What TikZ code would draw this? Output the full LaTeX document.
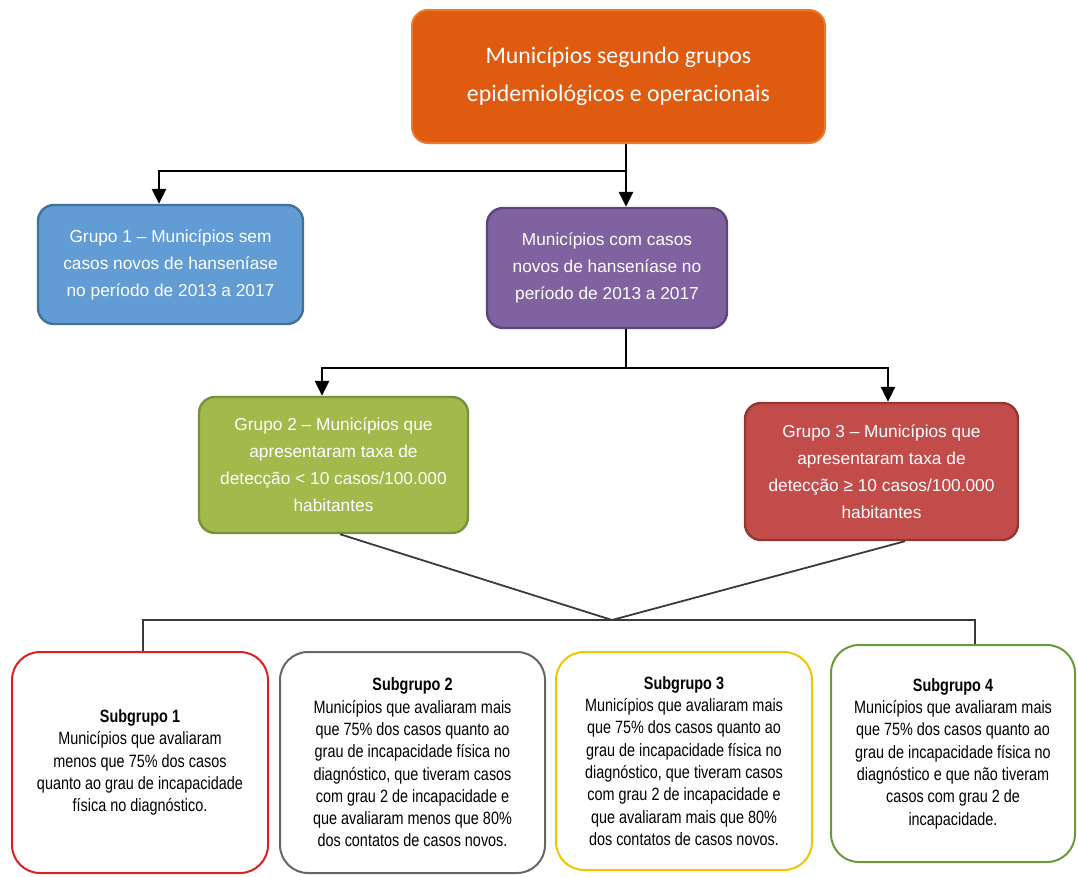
\documentclass[tikz,border=0pt]{standalone}
\usepackage{fontspec}
\setmainfont{Liberation Sans}
\newfontfamily\calibrifont{Carlito}
\newfontfamily\narrowfont[FakeStretch=0.81]{Liberation Sans}
\usetikzlibrary{arrows.meta}

\definecolor{orangefill}{HTML}{DF5B10}
\definecolor{orangeedge}{HTML}{EC7A2A}
\definecolor{bluefill}{HTML}{629CD4}
\definecolor{blueedge}{HTML}{41719C}
\definecolor{purplefill}{HTML}{8062A0}
\definecolor{purpleedge}{HTML}{5C4679}
\definecolor{greenfill}{HTML}{A2B94B}
\definecolor{greenedge}{HTML}{76923C}
\definecolor{redfill}{HTML}{C24C4A}
\definecolor{rededge}{HTML}{943634}
\definecolor{sub1}{HTML}{E0201F}
\definecolor{sub2}{HTML}{666666}
\definecolor{sub3}{HTML}{F5C400}
\definecolor{sub4}{HTML}{6A9A3A}
\definecolor{linkgray}{HTML}{3A3A3A}

\tikzset{
  groupbox/.style={rounded corners=16pt, line width=2.4pt, align=center,
    text=white, inner sep=0pt,
    font=\fontsize{17.3}{27}\selectfont},
  subbox/.style={rounded corners=28pt, line width=2pt, fill=white,
    align=center, inner sep=0pt, text=black,
    font=\narrowfont\fontsize{17.8}{22.3}\selectfont},
  arr/.style={line width=2.6pt, draw=black,
    -{Triangle[length=15pt,width=14pt]}},
  trunk/.style={line width=2.6pt, draw=black},
  link/.style={line width=1.8pt, draw=linkgray}
}

\begin{document}
\begin{tikzpicture}[x=1pt,y=-1pt]
\useasboundingbox (0,0) rectangle (1078,876);

% main box
\node[rounded corners=16pt, line width=2pt, fill=orangefill, draw=orangeedge,
  minimum width=413pt, minimum height=133pt, align=center, text=white,
  inner sep=0pt, font=\calibrifont\fontsize{23.8}{38}\selectfont]
  (top) at (618.5,76.5)
  {Municípios segundo grupos\\epidemiológicos e operacionais};

% first level
\node[groupbox, fill=bluefill, draw=blueedge,
  minimum width=265pt, minimum height=119pt] (g1) at (170.5,264.5)
  {Grupo 1 -- Municípios sem\\casos novos de hanseníase\\no período de 2013 a 2017};
\node[groupbox, fill=purplefill, draw=purpleedge,
  minimum width=240pt, minimum height=120pt] (pur) at (607,268)
  {Municípios com casos\\novos de hanseníase no\\período de 2013 a 2017};

% second level
\node[groupbox, fill=greenfill, draw=greenedge,
  minimum width=269pt, minimum height=136pt] (g2) at (333.5,465)
  {Grupo 2 -- Municípios que\\apresentaram taxa de\\detecção < 10 casos/100.000\\habitantes};
\node[groupbox, fill=redfill, draw=rededge,
  minimum width=273pt, minimum height=137pt] (g3) at (881.5,471.5)
  {Grupo 3 -- Municípios que\\apresentaram taxa de\\detecção ≥ 10 casos/100.000\\habitantes};

% subgroups
\node[subbox, draw=sub1, minimum width=256pt, minimum height=221pt]
  (s1) at (140,762.5)
  {\textbf{Subgrupo 1}\\Municípios que avaliaram\\menos que 75\% dos casos\\quanto ao grau de incapacidade\\física no diagnóstico.};
\node[subbox, draw=sub2, minimum width=265pt, minimum height=221pt]
  (s2) at (412.5,762.5)
  {\textbf{Subgrupo 2}\\Municípios que avaliaram mais\\que 75\% dos casos quanto ao\\grau de incapacidade física no\\diagnóstico, que tiveram casos\\com grau 2 de incapacidade e\\que avaliaram menos que 80\%\\dos contatos de casos novos.};
\node[subbox, draw=sub3, minimum width=256pt, minimum height=218pt]
  (s3) at (684,761)
  {\textbf{Subgrupo 3}\\Municípios que avaliaram mais\\que 75\% dos casos quanto ao\\grau de incapacidade física no\\diagnóstico, que tiveram casos\\com grau 2 de incapacidade e\\que avaliaram mais que 80\%\\dos contatos de casos novos.};
\node[subbox, draw=sub4, minimum width=244pt, minimum height=217pt]
  (s4) at (953,753.5)
  {\textbf{Subgrupo 4}\\Municípios que avaliaram mais\\que 75\% dos casos quanto ao\\grau de incapacidade física no\\diagnóstico e que não tiveram\\casos com grau 2 de\\incapacidade.};

% branch points
\coordinate (b1) at (626,171);
\coordinate (b2) at (626,368);
\coordinate (m) at (612,620);

% connectors, first level
\draw[trunk] (top.south -| b1) -- (b1);
\draw[arr] (b1) -| ([xshift=-11.5pt]g1.north);
\draw[arr] (top.south -| b1) -- (pur.north -| b1);

% connectors, second level
\draw[trunk] (pur.south -| b2) -- (b2);
\draw[arr] (b2) -| ([xshift=-11.5pt]g2.north);
\draw[arr] (b2) -| ([xshift=6.5pt]g3.north);

% connectors to the subgroups
\draw[link] ([xshift=6.5pt]g2.south) -- (m);
\draw[link] ([xshift=23.5pt]g3.south) -- (m);
\draw[link] ([xshift=3pt]s1.north) |- (m) -| ([xshift=22pt]s4.north);
\end{tikzpicture}
\end{document}
